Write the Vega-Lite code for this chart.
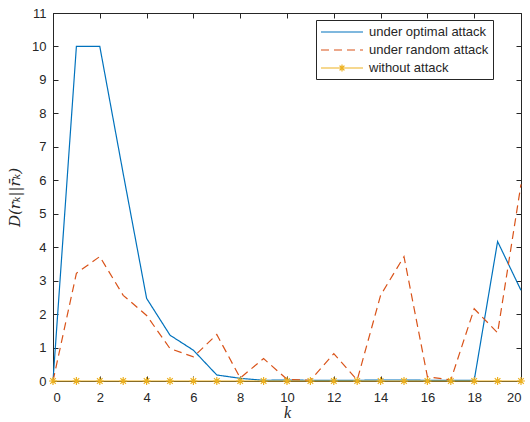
{
  "$schema": "https://vega.github.io/schema/vega-lite/v6.json",
  "autosize": {"type": "none"},
  "padding": {"left": 53, "top": 13, "right": 9, "bottom": 41},
  "width": 468,
  "height": 368,
  "background": "white",
  "view": {"stroke": "#262626", "strokeWidth": 1},
  "config": {
    "axis": {
      "domainColor": "#262626",
      "tickColor": "#262626",
      "labelColor": "#262626",
      "labelFont": "Liberation Sans",
      "labelFontSize": 13,
      "tickSize": -5,
      "grid": false,
      "titleColor": "#262626",
      "titleFont": "Liberation Serif",
      "titleFontStyle": "italic",
      "titleFontWeight": "normal",
      "titleFontSize": 16
    }
  },
  "datasets": {
    "d": [
      {"k": 0, "v": 0, "s": "under optimal attack"},
      {"k": 1, "v": 10, "s": "under optimal attack"},
      {"k": 2, "v": 10, "s": "under optimal attack"},
      {"k": 3, "v": 6.2, "s": "under optimal attack"},
      {"k": 4, "v": 2.47, "s": "under optimal attack"},
      {"k": 5, "v": 1.37, "s": "under optimal attack"},
      {"k": 6, "v": 0.92, "s": "under optimal attack"},
      {"k": 7, "v": 0.18, "s": "under optimal attack"},
      {"k": 8, "v": 0.08, "s": "under optimal attack"},
      {"k": 9, "v": 0.02, "s": "under optimal attack"},
      {"k": 10, "v": 0.03, "s": "under optimal attack"},
      {"k": 11, "v": 0.02, "s": "under optimal attack"},
      {"k": 12, "v": 0.02, "s": "under optimal attack"},
      {"k": 13, "v": 0.02, "s": "under optimal attack"},
      {"k": 14, "v": 0.03, "s": "under optimal attack"},
      {"k": 15, "v": 0.03, "s": "under optimal attack"},
      {"k": 16, "v": 0.02, "s": "under optimal attack"},
      {"k": 17, "v": 0.02, "s": "under optimal attack"},
      {"k": 18, "v": 0.02, "s": "under optimal attack"},
      {"k": 19, "v": 4.17, "s": "under optimal attack"},
      {"k": 20, "v": 2.71, "s": "under optimal attack"},
      {"k": 0, "v": 0, "s": "under random attack"},
      {"k": 1, "v": 3.22, "s": "under random attack"},
      {"k": 2, "v": 3.72, "s": "under random attack"},
      {"k": 3, "v": 2.56, "s": "under random attack"},
      {"k": 4, "v": 1.96, "s": "under random attack"},
      {"k": 5, "v": 0.97, "s": "under random attack"},
      {"k": 6, "v": 0.72, "s": "under random attack"},
      {"k": 7, "v": 1.39, "s": "under random attack"},
      {"k": 8, "v": 0.09, "s": "under random attack"},
      {"k": 9, "v": 0.67, "s": "under random attack"},
      {"k": 10, "v": 0.05, "s": "under random attack"},
      {"k": 11, "v": 0.02, "s": "under random attack"},
      {"k": 12, "v": 0.82, "s": "under random attack"},
      {"k": 13, "v": 0.03, "s": "under random attack"},
      {"k": 14, "v": 2.56, "s": "under random attack"},
      {"k": 15, "v": 3.72, "s": "under random attack"},
      {"k": 16, "v": 0.13, "s": "under random attack"},
      {"k": 17, "v": 0.03, "s": "under random attack"},
      {"k": 18, "v": 2.16, "s": "under random attack"},
      {"k": 19, "v": 1.44, "s": "under random attack"},
      {"k": 20, "v": 5.88, "s": "under random attack"},
      {"k": 0, "v": 0, "s": "without attack"},
      {"k": 1, "v": 0, "s": "without attack"},
      {"k": 2, "v": 0, "s": "without attack"},
      {"k": 3, "v": 0, "s": "without attack"},
      {"k": 4, "v": 0, "s": "without attack"},
      {"k": 5, "v": 0, "s": "without attack"},
      {"k": 6, "v": 0, "s": "without attack"},
      {"k": 7, "v": 0, "s": "without attack"},
      {"k": 8, "v": 0, "s": "without attack"},
      {"k": 9, "v": 0, "s": "without attack"},
      {"k": 10, "v": 0, "s": "without attack"},
      {"k": 11, "v": 0, "s": "without attack"},
      {"k": 12, "v": 0, "s": "without attack"},
      {"k": 13, "v": 0, "s": "without attack"},
      {"k": 14, "v": 0, "s": "without attack"},
      {"k": 15, "v": 0, "s": "without attack"},
      {"k": 16, "v": 0, "s": "without attack"},
      {"k": 17, "v": 0, "s": "without attack"},
      {"k": 18, "v": 0, "s": "without attack"},
      {"k": 19, "v": 0, "s": "without attack"},
      {"k": 20, "v": 0, "s": "without attack"}
    ]
  },
  "data": {"name": "d"},
  "layer": [
    {
      "mark": {"type": "line", "strokeWidth": 1.2},
      "encoding": {
        "x": {
          "field": "k", "type": "quantitative",
          "scale": {"domain": [0, 20], "nice": false, "zero": false},
          "axis": {"values": [0,2,4,6,8,10,12,14,16,18,20], "title": "k", "labelPadding": 15, "titlePadding": 0}
        },
        "y": {
          "field": "v", "type": "quantitative",
          "scale": {"domain": [0, 11], "nice": false},
          "axis": {"values": [0,1,2,3,4,5,6,7,8,9,10,11], "title": "D(rₖ||r̄ₖ)", "titleFont": "DejaVu Serif", "titleFontSize": 15, "labelPadding": 12, "titlePadding": 9}
        },
        "color": {
          "field": "s", "type": "nominal",
          "scale": {"domain": ["under optimal attack", "under random attack", "without attack"], "range": ["#0072BD", "#D95319", "#EDB120"]},
          "legend": {
            "title": null,
            "orient": "none",
            "legendX": 263,
            "legendY": 7,
            "strokeColor": "#262626",
            "fillColor": "white",
            "padding": 4,
            "labelFont": "Liberation Sans",
            "labelFontSize": 13,
            "labelColor": "#262626",
            "symbolSize": 196,
            "symbolStrokeWidth": 1.2,
            "labelOffset": 33,
            "rowPadding": 3,
            "encode": {
              "symbols": {
                "update": {
                  "shape": {"signal": "datum.value === 'without attack' ? 'M-1,0L5,0M1.5,0L2.5,0M2,-0.5L2,0.5M1.65,-0.35L2.35,0.35M1.65,0.35L2.35,-0.35' : 'M-1,0L5,0'"}
                }
              }
            }
          }
        },
        "strokeDash": {
          "field": "s", "type": "nominal",
          "scale": {"domain": ["under optimal attack", "under random attack", "without attack"], "range": [[1, 0], [8, 5], [1, 0]]},
          "legend": {"title": null}
        }
      }
    },
    {
      "transform": [{"filter": "datum.s === 'without attack'"}],
      "mark": {"type": "point", "shape": "M-1,0L1,0M0,-1L0,1M-0.7,-0.7L0.7,0.7M-0.7,0.7L0.7,-0.7", "size": 64, "filled": false, "color": "#EDB120", "strokeWidth": 1.2, "opacity": 1},
      "encoding": {
        "x": {
          "field": "k", "type": "quantitative",
          "scale": {"domain": [0, 20], "nice": false, "zero": false},
          "axis": {"orient": "top", "values": [0,2,4,6,8,10,12,14,16,18,20], "labels": false, "domain": false, "title": null}
        },
        "y": {
          "field": "v", "type": "quantitative",
          "scale": {"domain": [0, 11], "nice": false},
          "axis": {"orient": "right", "values": [0,1,2,3,4,5,6,7,8,9,10,11], "labels": false, "domain": false, "title": null}
        }
      }
    }
  ],
  "resolve": {"scale": {"x": "independent", "y": "independent"}}
}
